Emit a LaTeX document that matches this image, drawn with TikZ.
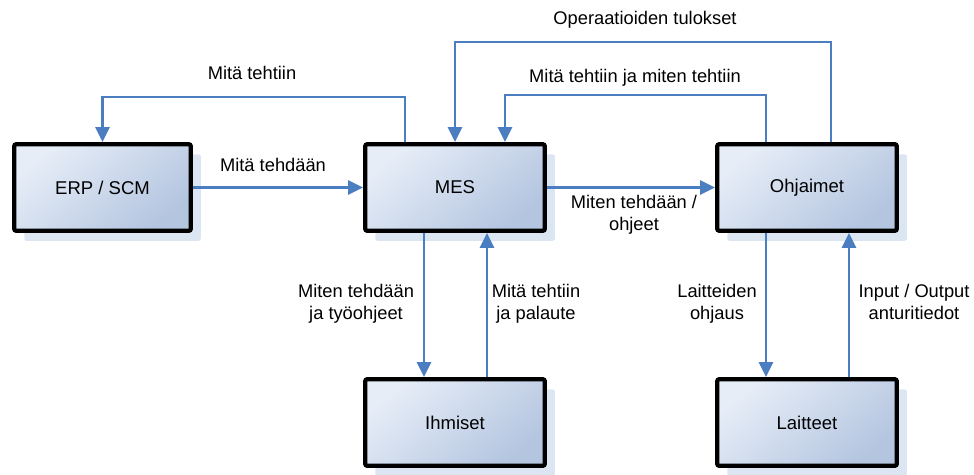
\documentclass[tikz,border=0pt]{standalone}
\usepackage{fontspec}
\setmainfont{Liberation Sans}
\usetikzlibrary{arrows.meta,shadows}
\definecolor{linkblue}{RGB}{74,126,192}
\definecolor{boxlight}{RGB}{230,237,247}
\definecolor{boxdark}{RGB}{180,197,224}
\definecolor{shadowblue}{RGB}{220,230,242}
\tikzset{
  block/.style={draw=black, line width=4.3pt, rounded corners=2pt,
    minimum width=179.5pt, minimum height=86.5pt, inner sep=0pt,
    shading=axis, top color=boxlight, bottom color=boxdark, shading angle=40,
    general shadow={fill=shadowblue, shadow xshift=10pt, shadow yshift=-10pt},
    font=\fontsize{18.5}{22}\selectfont},
  conn/.style={draw=linkblue, line width=2.4pt,
    -{Triangle[length=15pt,width=14pt]}},
  lbl/.style={align=center, inner sep=0pt, font=\fontsize{18.3}{22.5}\selectfont}
}
\begin{document}
\begin{tikzpicture}[x=1pt,y=-1pt]
\useasboundingbox (0,0) rectangle (974,474);

% blocks
\node[block, minimum width=176.5pt] (erp) at (102.5,187.5) {ERP / SCM};
\node[block] (mes) at (455,187.5) {MES};
\node[block] (ohj) at (807,187.5) {Ohjaimet};
\node[block] (ihm) at (455,422.5) {Ihmiset};
\node[block] (lai) at (807,422.5) {Laitteet};

% connectors
\draw[conn] ([xshift=-50pt]mes.north) -- ++(0,-45) -| (erp.north);
\draw[conn] (erp.east) -- (mes.west);
\draw[conn] ([xshift=24pt]ohj.north) -- ++(0,-100) -| (mes.north);
\draw[conn] ([xshift=-41pt]ohj.north) -- ++(0,-47) -| ([xshift=50pt]mes.north);
\draw[conn] (mes.east) -- (ohj.west);
\draw[conn] ([xshift=-31pt]mes.south) -- ([xshift=-31pt]ihm.north);
\draw[conn] ([xshift=32pt]ihm.north) -- ([xshift=32pt]mes.south);
\draw[conn] ([xshift=-41pt]ohj.south) -- ([xshift=-41pt]lai.north);
\draw[conn] ([xshift=42pt]lai.north) -- ([xshift=42pt]ohj.south);

% labels
\node[lbl] (t1) at (252,73) {Mitä tehtiin};
\node[lbl] (t2) at (273,165) {Mitä tehdään};
\node[lbl] (t3) at (645,20) {Operaatioiden tulokset};
\node[lbl] (t4) at (635,78) {Mitä tehtiin ja miten tehtiin};
\node[lbl] (t5) at (634,215) {Miten tehdään /\\ohjeet};
\node[lbl] (t6) at (356,304) {Miten tehdään\\ja työohjeet};
\node[lbl] (t7) at (536,304) {Mitä tehtiin\\ja palaute};
\node[lbl] (t8) at (717,304) {Laitteiden\\ohjaus};
\node[lbl] (t9) at (914,302) {Input / Output\\anturitiedot};
\end{tikzpicture}
\end{document}
